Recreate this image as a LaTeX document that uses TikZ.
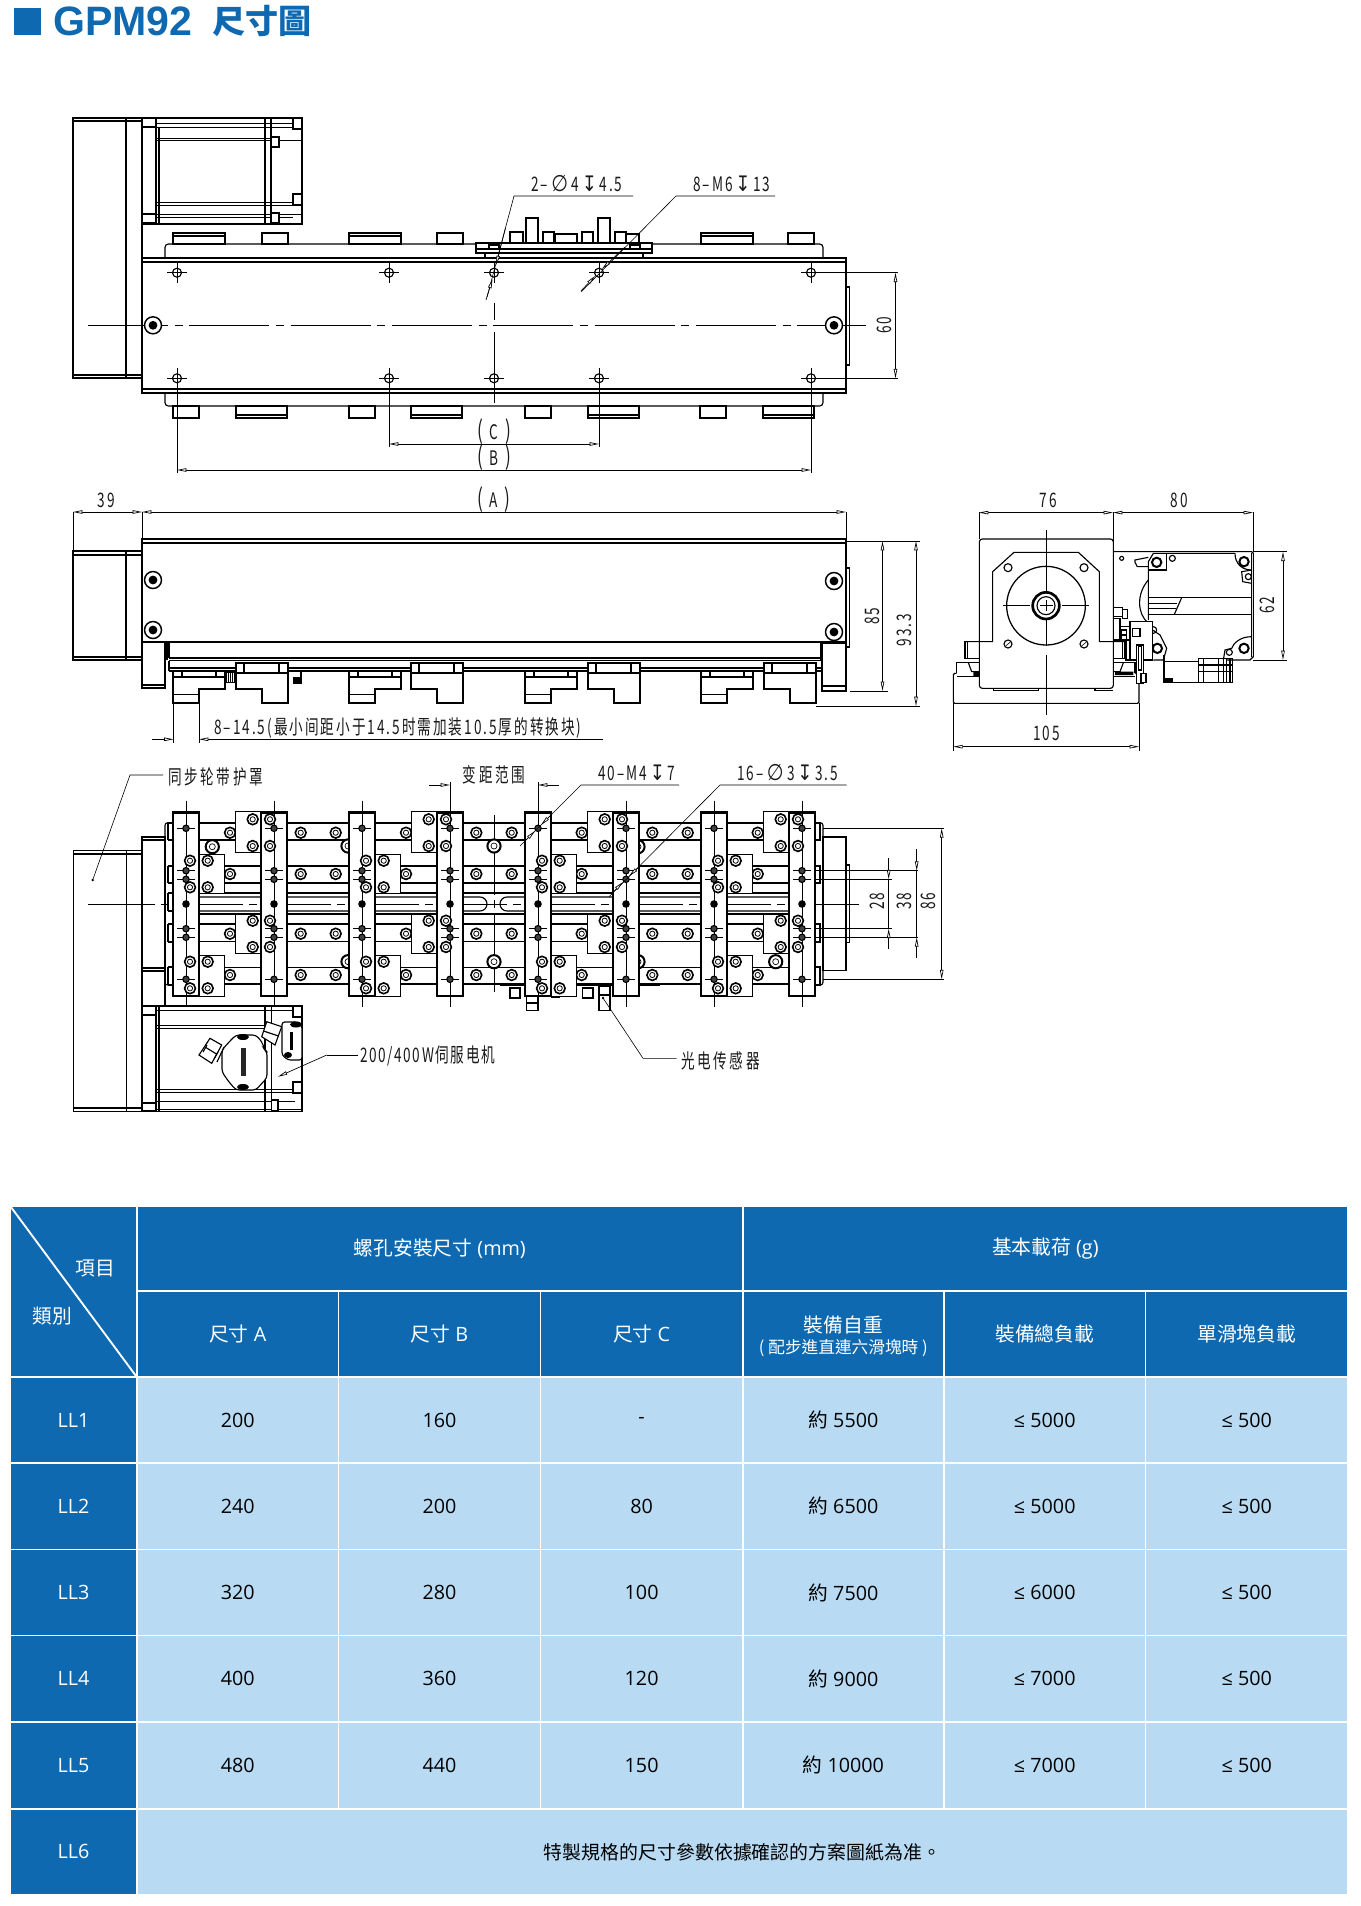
\documentclass[tikz,border=0pt]{standalone}
\usepackage{fontspec}
\usetikzlibrary{arrows.meta}
\setmainfont{Open Sans}
\newfontfamily\cj{Noto Sans CJK TC}
\newfontfamily\cad[FakeStretch=.68,LetterSpace=10]{Noto Sans CJK SC}
\newfontfamily\cadw[FakeStretch=.68,LetterSpace=13]{Noto Sans CJK SC}
\newfontfamily\cadm[FakeStretch=.68,LetterSpace=8]{Noto Sans CJK SC}
\newfontfamily\cadsym[FakeStretch=.85]{DejaVu Sans}
\newfontfamily\tlat{Liberation Sans}
\definecolor{blued}{HTML}{0F69B1}
\definecolor{bluel}{HTML}{B8DBF3}
\newcommand{\dia}{\hspace{2.5pt}{\cadsym\fontsize{17}{17}\selectfont ∅}\hspace{2.5pt}}
\newcommand{\dep}{\hspace{2pt}{\cadsym\fontsize{16}{16}\selectfont ↧}\hspace{2pt}}
\newcommand{\parl}{{\fontsize{19}{19}\selectfont(}\hspace{5pt}}
\newcommand{\parr}{\hspace{5pt}{\fontsize{19}{19}\selectfont)}}
\tikzset{
 ol/.style={line width=.85pt,draw=black},
 th/.style={line width=.45pt,draw=black},
 tk/.style={line width=1.5pt,draw=black},
 wf/.style={ol,fill=white},
 ctr/.style={line width=.5pt,draw=black,dash pattern=on 60pt off 5pt on 6pt off 5pt},
 dimen/.style={line width=.5pt,draw=black,{Triangle[open,fill=white,length=7pt,width=2.6pt]}-{Triangle[open,fill=white,length=7pt,width=2.6pt]}},
 tipin/.style={line width=.5pt,draw=black,-{Triangle[open,fill=white,length=7pt,width=2.6pt]}},
 cadtx/.style={font=\cad\fontsize{15}{15}\selectfont,inner sep=0pt,text=black!90},
 cadsp/.style={font=\cadw\fontsize{15}{15}\selectfont,inner sep=0pt,text=black!90},
 cadmx/.style={font=\cadm\fontsize{15}{15}\selectfont,inner sep=0pt,text=black!90},
 cell/.style={fill=#1,draw=white,line width=1.4pt},
 ctw/.style={font=\fontsize{14.8}{17}\selectfont,text=white,inner sep=0pt,align=center},
 ctb/.style={font=\fontsize{14.8}{17}\selectfont,text=black,inner sep=0pt},
}
\newcommand{\hcirc}[2]{\draw[ol] (#1,#2) circle (4.5); \draw[th] (#1-10,#2)--(#1+10,#2) (#1,#2-10)--(#1,#2+10);}
\newcommand{\bigscrew}[2]{\draw[line width=1.1pt,draw=black,fill=white] (#1,#2) circle (8.5); \fill[black] (#1,#2) circle (4.4);}
\newcommand{\tgt}[2]{\draw[line width=1.2pt,draw=black,fill=white] (#1,#2) circle (5.4); \draw[line width=.6pt] (#1,#2) circle (2.6);}
\newcommand{\colh}[2]{\draw[th] (#1-9,#2)--(#1+9,#2); \draw[ol,fill=black!75] (#1,#2) circle (3.2);}
\newcommand{\sidea}[1]{%
 \draw[wf] (#1,671) rectangle (#1+52,677);
 \draw[ol] (#1,671) rectangle (#1+9,677) (#1+43,671) rectangle (#1+52,677);
 \draw[wf] (#1,677)--(#1+52,677)--(#1+52,689)--(#1+26,689)--(#1+26,703)--(#1,703)--cycle;
 \draw[th] (#1,694)--(#1+26,694);
 \draw[tk] (#1,702.5)--(#1+26,702.5);}
\newcommand{\sideb}[1]{%
 \draw[wf] (#1,663) rectangle (#1+52,673);
 \draw[ol] (#1+8,663)--(#1+8,673) (#1+43,663)--(#1+43,673);
 \draw[wf] (#1,673)--(#1+52,673)--(#1+52,703)--(#1+26,703)--(#1+26,689)--(#1,689)--cycle;
 \draw[tk] (#1+26,702.5)--(#1+52,702.5);}
\newcommand{\tcell}[7]{\path[cell=#5] (#1,#2) rectangle (#3,#4); \node[#6] (#7) at ({(#1+#3)/2},{(#2+#4)/2})}
\begin{document}
\begin{tikzpicture}[x=.75pt,y=-.75pt]
\useasboundingbox (0,0) rectangle (1360,1906);
% ---------- title
\fill[blued] (14,8) rectangle (41,35);
\node[inner sep=0pt,anchor=west,text=blued,font=\tlat\bfseries\fontsize{30.8}{32}\selectfont] (ttl) at (53,21.5) {GPM92};
\node[inner sep=0pt,anchor=west,text=blued,font=\cj\bfseries\fontsize{24.8}{26}\selectfont] (ttc) at (212,21) {尺寸圖};
% ---------- TOP VIEW
\draw[ol] (73,118) rectangle (142,378);
\draw[ol] (126,118)--(126,378) (73,121)--(142,121) (73,375)--(142,375);
\draw[ol] (142,118) rectangle (302,224);
\draw[ol] (156,118)--(156,224) (159,127)--(159,224) (265,118)--(265,224) (271,118)--(271,224);
\draw[th] (156,123)--(293,123) (156,127)--(293,127) (156,138)--(271,138) (156,140)--(302,140);
\draw[th] (156,202)--(302,202) (156,205)--(293,205) (156,214)--(302,214) (156,217)--(293,217);
\draw[wf] (142,118) rectangle (156,127);\draw[wf] (142,214) rectangle (156,223);
\draw[wf] (293,118) rectangle (302,129);\draw[wf] (271,137) rectangle (279,147);
\draw[wf] (293,194) rectangle (302,205);\draw[wf] (271,213) rectangle (279,223);
\foreach \o in {0,176,528}{\draw[wf] (173+\o,233) rectangle (225+\o,244);\draw[ol] (173+\o,236)--(225+\o,236);}
\foreach \o in {0,175,526}{\draw[wf] (262+\o,233) rectangle (288+\o,244);}
\draw[ol,rounded corners=2.5pt] (165,258)--(165,244)--(823,244)--(823,258);
\draw[ol,rounded corners=2.5pt] (165,393)--(165,406)--(823,406)--(823,393);
\foreach \x in {173,349,525,700}{\draw[wf] (\x,406) rectangle (\x+26,418);}
\foreach \x in {236,411,588,763}{\draw[wf] (\x,406) rectangle (\x+51,418);\draw[ol] (\x,415)--(\x+51,415);}
% carriage
\foreach \a/\b/\c/\d in {510/523/232/243,543/554/232/243,555/577/234/243,582/593/232/243,615/626/232/243,626/639/234/243,526/538/218/243,598/610/218/243}{\draw[wf] (\a,\c) rectangle (\b,\d);}
\draw[wf] (476,243) rectangle (652,253);\draw[ol] (476,249)--(652,249);
\draw[ol] (485,253)--(485,258) (643,253)--(643,258);
\draw[ol] (489,245) rectangle (499,249) (630,245) rectangle (640,249);
% body
\draw[wf] (142,258) rectangle (846,393);
\draw[ol] (142,262)--(846,262) (142,389)--(846,389);
\draw[ol] (846,287) rectangle (849.5,365);
\foreach \x in {177,389,494,599,811}{\hcirc{\x}{272.7}\hcirc{\x}{378.3}}
\draw[ctr] (88,325.3)--(866,325.3);
\draw[th] (494,303)--(494,320) (494,332)--(494,403);
\bigscrew{153}{325.3}\bigscrew{834}{325.3}
% leaders top
\node[cadtx,anchor=west] (l1) at (531,184) {2–\dia 4\dep 4.5};
\node[cadtx,anchor=west] (l2) at (693,184) {8–M6\dep 13};
\coordinate (l1a) at (633,196);\coordinate (l1b) at (514,196);\coordinate (l1c) at (487,297);
\coordinate (l2a) at (775,196);\coordinate (l2b) at (676,196);\coordinate (l2c) at (581,292);
\draw[th] (l1a)--(l1b)--(l1c);\draw[th] (l2a)--(l2b)--(l2c);
\draw[tipin] (505.5,228)--(496,265);\draw[tipin] (486,300)--(492.5,279);
\draw[tipin] (625,247)--(602,269);\draw[tipin] (581,291)--(595,276);
% dims C B
\draw[th] (389,385)--(389,447) (599,385)--(599,447) (177,385)--(177,473) (811,378)--(811,473);
\draw[dimen] (389,444)--(599,444);
\draw[dimen] (177,470)--(811,470);
\node[cadtx] (lc) at (494,432) {\parl C\parr};
\node[cadtx] (lb) at (494,458) {\parl B\parr};
\draw[th] (811,272.7)--(898,272.7) (811,378.3)--(898,378.3);
\draw[dimen] (895.5,272.7)--(895.5,378.3);
\node[cadtx,rotate=90] (l60) at (884,325) {60};
% ---------- SIDE VIEW
\draw[th] (73,512)--(73,551) (142,512)--(142,539) (846,512)--(846,541);
\draw[dimen] (73,512)--(142,512);
\draw[dimen] (142,512)--(846,512);
\node[cadtx] (l39) at (106,500) {39};
\node[cadtx] (la) at (494,500) {\parl A\parr};
\draw[ol] (73,551) rectangle (142,660);
\draw[ol] (126,551)--(126,660) (73,555)--(142,555) (73,657)--(142,657);
\draw[ol] (142,539) rectangle (846,642);
\draw[ol] (142,543)--(846,543);
\draw[ol] (846,568) rectangle (849.5,647);
\draw[wf] (142,642) rectangle (165,688);\draw[ol] (142,685)--(165,685);
\draw[ol] (167,642)--(167,660) (169,642)--(169,658);
\draw[ol] (169,658)--(821,658) (169,660.5)--(821,660.5) (821,642)--(821,660);
\draw[ol] (169,660.5)--(169,671) (169,668)--(821,668);
\draw[tk] (169,671)--(821,671);
\foreach \x in {173,349,525,701}{\sidea{\x}}
\foreach \x in {236,411,588,764}{\sideb{\x}}
\fill[black] (293,677) rectangle (301,684);\draw[ol] (301,672)--(301,684);
\draw[th] (226,672) rectangle (236,682);\foreach \x in {228,230,232,234}{\draw[th] (\x,672)--(\x,682);}
\draw[wf] (822,643) rectangle (846,691);\draw[ol] (822,686)--(846,686);
\bigscrew{153}{580}\bigscrew{153}{630}\bigscrew{834}{581}\bigscrew{834}{632}
\draw[th] (846,541)--(920,541) (850,691)--(888,691) (816,706)--(920,706);
\draw[dimen] (882.5,541)--(882.5,691);
\draw[dimen] (916,541)--(916,706);
\node[cadtx,rotate=90] (l85) at (872,616) {85};
\node[cadtx,rotate=90] (l93) at (904,630) {93.3};
\draw[th] (173.5,704)--(173.5,743) (199,704)--(199,743);
\coordinate (s1) at (152,739.3);\coordinate (s2) at (603,739.3);
\draw[tipin] (s1)--(173.5,739.3);\draw[tipin] (s2)--(199,739.3);
\node[cadtx,anchor=west] (l8) at (214,728) {8–14.5(最小间距小于14.5时需加装10.5厚的转换块)};
% ---------- FRONT VIEW
\draw[th] (979,512)--(979,539) (1113,512)--(1113,542) (1253,512)--(1253,551);
\draw[dimen] (979,512.6)--(1113,512.6);\draw[dimen] (1113,512.6)--(1253,512.6);
\node[cadtx] (l76) at (1048,500) {76};
\node[cadtx] (l80) at (1179,500) {80};
\begin{scope}[shift={(940,520)},x=.25pt,y=-.25pt]
 % motor
 \draw[ol] (520,95)--(935,95)--(940,100)--(940,410)--(930,420)--(860,420);
 \draw[ol] (935,100)--(935,410);
 \draw[ol] (625,300)--(625,125)--(640,100)--(885,100);
 \draw[ol] (885,100)..controls(885,130)and(905,150)..(935,150);
 \draw[ol] (935,150)--(905,155)--(908,185)--(935,190);
 \draw[ol] (625,150)--(680,150)--(680,100);
 \draw[ol] (625,180)..controls(590,220)and(590,280)..(625,310);
 \draw[ol] (585,127)--(585,120)--(625,112) (585,127)--(592,140)--(625,140);
 \draw[ol] (545,115) circle (6);
 \draw[tk] (650,127) circle (14);\draw[tk] (912,125) circle (14);\draw[ol] (925,170) circle (9);\draw[ol] (697,115) circle (9);
 \draw[ol] (625,233)--(935,233) (625,283)--(935,283) (625,250)--(712,250) (625,265)--(708,265);
 \draw[ol] (725,233)--(703,283);
 \draw[ol] (935,350)..controls(900,350)and(880,370)..(875,385)--(855,390)--(850,420);
 \draw[tk] (912,385) circle (14);\draw[ol] (868,397) circle (9);
 \draw[ol] (640,330) circle (10);\draw[tk] (652,385) circle (14);
 \draw[ol] (638,330)--(660,345)--(680,385)--(670,420)--(640,420);
 \draw[ol] (672,405)--(672,488)--(878,488)--(878,415)--(775,415)--(775,488);
 \draw[ol] (672,425)--(775,425) (790,415)--(790,488) (835,415)--(835,488) (850,415)--(850,488) (860,415)--(860,488) (870,415)--(870,488) (775,435)--(878,435) (775,455)--(878,455);
 \fill[black] (672,475) rectangle (700,490);
 % base and rails
 \draw[wf,rounded corners=1pt] (40,460)--(40,550)--(597,550)--(597,460)--(520,460)--(118,460)--cycle;
 \draw[wf] (50,460)--(50,428)--(118,428)--(118,470)--(50,470);
 \draw[wf] (585,460)--(585,428)--(520,428)--(520,470)--(585,470);
 \draw[ol] (85,428)--(95,455)--(118,455) (550,428)--(540,455)--(520,455);
 \fill[black] (100,455) rectangle (118,470) (525,455) rectangle (580,465);
 \draw[wf] (75,365) rectangle (118,415);\draw[ol] (82,365)--(82,415);
 \draw[wf] (555,365) rectangle (520,415);
 \draw[ol] (548,365)--(548,415);
 \draw[wf] (520,262) rectangle (548,290);\draw[wf] (548,268) rectangle (562,295);
 \draw[wf] (520,295) rectangle (540,360);\draw[wf] (540,320) rectangle (570,360);\draw[ol] (545,330) rectangle (560,345);\draw[ol] (545,345) rectangle (560,358);
 \draw[wf] (570,305) rectangle (638,420);\draw[wf] (578,325) rectangle (600,350);
 \draw[wf] (590,375) rectangle (610,490);\draw[ol] (596,380) rectangle (604,450);
 \draw[wf] (603,460) rectangle (618,487);
 \draw[wf] (558,360) rectangle (568,420);
 % housing
 \draw[wf,rounded corners=2.2pt] (118,57) rectangle (520,505);
 \draw[ol] (160,505)--(160,512)--(295,512)--(295,505) (465,505)--(465,512)--(520,512);
 \draw[ol] (78,365)--(158,365)--(158,155)--(222,97)--(415,97)--(478,155)--(478,365)--(555,365);
 \draw[ol] (204,143) circle (12);\draw[ol] (432,143) circle (12);
 \draw[ol] (204,372) circle (12);\draw[ol] (432,372) circle (12);
 \draw[th] (197,378)--(211,366) (425,378)--(439,366);
 \draw[line width=.95pt] (318,257) circle (118);
 \draw[line width=2pt] (318,257) circle (40);
 \draw[ol] (318,257) circle (27);
 \draw[th] (318,30)--(318,212) (318,240)--(318,272) (318,300)--(318,378) (318,405)--(318,585);
 \draw[th] (190,257)--(270,257) (300,257)--(338,257) (366,257)--(447,257);
 \draw[th] (40,550)--(40,692) (597,550)--(597,692);
 \draw[dimen] (40,680)--(597,680);
\end{scope}
\node[cadtx] (l105) at (1046.7,733) {105};
\draw[th] (1253,551.7)--(1287,551.7) (1253,660)--(1287,660);
\draw[dimen] (1283,551.7)--(1283,660);
\node[cadtx,rotate=90] (l62) at (1267,605) {62};
% ---------- PLAN VIEW
\draw[ol] (73.3,850.7) rectangle (142,1111.7);
\draw[ol] (126.7,850.7)--(126.7,1111.7) (73.3,854)--(142,854) (73.3,1108)--(142,1108);
\draw[ol] (142,837) rectangle (165,1006);
\draw[ol] (142,840)--(165,840) (142,968)--(165,968) (142,971)--(165,971);
\draw[ol,rounded corners=2pt] (173,822.7)--(165,822.7)--(165,985)--(173,985);
\foreach \a/\b in {823/840,866/883,924/942,967/985,893/911}{\draw[ol] (168,\a)--(173,\a) (168,\b)--(173,\b) (168,\a)--(168,\b);}
% right end
\draw[ol] (823,837) rectangle (846,970.7);
\draw[ol] (846,865) rectangle (849.5,942.7);
\draw[ol,rounded corners=2pt] (815,822.7)--(823,822.7)--(823,985)--(815,985);
\foreach \a/\b in {823/840,866/883,924/942,967/985}{\draw[ol] (815,\a)--(820,\a)--(820,\b)--(815,\b);}
% motor plan
\draw[ol] (142,1006) rectangle (302,1111.7);
\draw[ol] (156,1006)--(156,1111.7) (159,1006)--(159,1111.7) (265,1006)--(265,1111.7) (271.7,1006)--(271.7,1111.7);
\draw[th] (156,1010)--(295,1010) (156,1025)--(271.7,1025) (156,1028)--(271.7,1028);
\draw[th] (156,1089)--(302,1089) (156,1092)--(302,1092) (156,1101.7)--(295,1101.7) (156,1109)--(302,1109);
\draw[wf] (142.7,1006) rectangle (156,1015);\draw[wf] (142.7,1103) rectangle (156,1111);
\draw[wf] (293,1006) rectangle (302,1017);\draw[wf] (293,1082) rectangle (302,1093);
\draw[wf] (271.7,1100) rectangle (278,1111);
% motor connector shapes
\draw[wf] (210,1038.3)--(221.7,1045)--(211.7,1063.3)--(199,1055)--cycle;
\draw[ol] (205,1047)--(216.5,1054) (203,1052)--(207,1045) (214,1059)--(218,1052);
\draw[ol] (217,1062)--(224,1047);
\draw[wf,rounded corners=2.5pt] (229,1042)--(236,1035)--(256,1035)--(262,1042)--(265,1050)--(267,1052)--(267,1078)--(263,1082)--(256,1090)--(236,1090)--(229,1082)--(222,1072)--(222,1050)--cycle;
\fill[black!85] (241,1048) rectangle (245.5,1076);
\fill[black] (243,1037) ellipse (6 and 3);\fill[black] (243,1087) ellipse (6 and 3);
\draw[wf] (261.7,1036.7)--(266.7,1021.7)--(281.7,1026.7)--(275,1045)--cycle;
\draw[ol] (263.5,1031)--(278.5,1036);
\draw[wf,rounded corners=2pt] (282,1022)--(298,1022)--(302,1026)--(302,1060)--(288,1060)--(282,1055)--cycle;
\fill[black] (290,1032) rectangle (293,1050);\fill[black] (296,1024.5) ellipse (6 and 3);\fill[black] (288,1055) ellipse (4 and 3);
% rails
\foreach \a/\b in {822.7/840,866/883.3,924/941.7,967.3/984}{\draw[wf] (173,\a) rectangle (815,\b);}
\draw[tk] (173,822.7)--(815,822.7) (173,883.3)--(815,883.3) (173,924)--(815,924) (173,984)--(815,984);
% center
\draw[ol] (199,893)--(789,893) (199,914)--(789,914);
\draw[ol] (199,897)--(480,897) arc (-90:90:7) --(199,911);
\draw[ol] (789,897)--(507,897) arc (-90:-270:7) --(789,911);
\draw[line width=.5pt,dash pattern=on 50pt off 5pt on 6pt off 5pt] (88,904)--(862,904);
\draw[th] (494,815)--(494,895) (494,900)--(494,908) (494,913)--(494,991.7);
% big screws behind
\foreach \x/\y in {212.3/846.7,348/846,494/846,638/846.7,348/961.7,494/961.7,638/961.7,775.7/961.7}{\draw[line width=1.5pt,fill=white] (\x,\y) circle (6.6);\draw[line width=.5pt] (\x,\y) circle (3);}
% rail targets
\foreach \y in {832.7,874,933.7,975}{\foreach \x in {230,300.7,335.7,406,476.3,511.7,581.7,652.3,687.7,757.7}{\tgt{\x}{\y}}}
% sensors
\draw[ol] (510,988) rectangle (520,998);\draw[ol] (582.7,988) rectangle (593,998);
\draw[wf] (526.7,996.7) rectangle (538,1010.7);\draw[ol] (526.7,1003)--(538,1003);
\draw[wf] (599,986.7) rectangle (610,1010.7);\draw[ol] (599,995)--(610,995);
\draw[tk] (500,985)--(660,985);
\draw[tk] (551,997)--(560,997);
% blocks and columns
\foreach \o in {0,176,352,528}{
 \draw[wf] (199+\o,854.3) rectangle (224.7+\o,893.3);
 \draw[wf] (199+\o,955.7) rectangle (224.7+\o,996.7);
 \draw[wf] (235.7+\o,811.7) rectangle (261+\o,852.3);
 \draw[wf] (235.7+\o,914.3) rectangle (261+\o,953.3);
}
\foreach \c in {186,274,362,450,538,626,714,802}{
 \draw[wf] (\c-13,811.7) rectangle (\c+13,996.7);
 \draw[tk] (\c-13,812.5)--(\c+13,812.5) (\c-13,996)--(\c+13,996);
 \draw[th] (\c,800.7)--(\c,1006.7);
 \colh{\c}{828.3}\colh{\c}{870.7}\colh{\c}{879.3}\colh{\c}{928.7}\colh{\c}{937.3}\colh{\c}{979.3}
 \fill[black] (\c,904) circle (3.8);
}
\foreach \o in {0,176,352,528}{
 \foreach \x in {190,207.7}{\foreach \y in {860.7,887.3,961.7,988.3}{\tgt{\x+\o}{\y}}}
 \foreach \x in {252.7,270}{\foreach \y in {819.3,846,920.7,947}{\tgt{\x+\o}{\y}}}
}
% plan labels
\node[cadsp,anchor=west] (p1) at (168,776.7) {同步轮带护罩};
\coordinate (p1a) at (163,775);\coordinate (p1b) at (130,775);\coordinate (p1c) at (92.7,880);
\draw[th] (p1a)--(p1b)--(p1c);\fill (p1c) circle (1.3);
\node[cadsp,anchor=center] (p2) at (494,775) {变距范围};
\draw[th] (450,782)--(450,812) (538,782)--(538,812);
\draw[tipin] (429,785)--(450,785);\draw[tipin] (559,785)--(538,785);
\node[cadtx,anchor=west] (p3) at (598,772.7) {40–M4\dep 7};
\node[cadtx,anchor=west] (p4) at (737,772.7) {16–\dia 3\dep 3.5};
\coordinate (p3a) at (679,785);\coordinate (p3b) at (581,785);\coordinate (p3c) at (520,846);
\coordinate (p4a) at (846.7,785);\coordinate (p4b) at (720,785);\coordinate (p4c) at (609,896.7);
\draw[th] (p3a)--(p3b)--(p3c);\draw[th] (p4a)--(p4b)--(p4c);
\draw[tipin] (552,814)--(541,825);\draw[tipin] (526,840)--(535,831);
\draw[tipin] (640,866)--(629,876);\draw[tipin] (613,892)--(623,882);
\node[cadmx,anchor=west] (p5) at (360,1056) {200/400W伺服电机};
\coordinate (p5a) at (358,1055);\coordinate (p5b) at (326.7,1055);\coordinate (p5c) at (278,1076.7);
\draw[th] (p5a)--(p5b);\draw[tipin] (p5b)--(p5c);
\node[cadsp,anchor=west] (p6) at (681,1061) {光电传感器};
\coordinate (p6a) at (676.7,1058.3);\coordinate (p6b) at (643,1058.3);\coordinate (p6c) at (603,998);
\draw[th] (p6a)--(p6b)--(p6c);\fill (p6c) circle (1.3);
% right dims
\draw[th] (823,828.3)--(944,828.3) (823,979.3)--(944,979.3);
\draw[th] (816,870.7)--(918,870.7) (816,937.3)--(918,937.3);
\draw[th] (816,879.3)--(892,879.3) (816,928.7)--(892,928.7);
\draw[dimen] (941.7,828.3)--(941.7,979.3);
\draw[tipin] (916.7,849)--(916.7,870.7);\draw[tipin] (916.7,958)--(916.7,937.3);\draw[th] (916.7,870.7)--(916.7,937.3);
\draw[tipin] (888.7,858)--(888.7,879.3);\draw[tipin] (888.7,949)--(888.7,928.7);\draw[th] (888.7,879.3)--(888.7,928.7);
\node[cadtx,rotate=90] (d28) at (877,901) {28};
\node[cadtx,rotate=90] (d38) at (904,901) {38};
\node[cadtx,rotate=90] (d86) at (928.3,901) {86};
% ---------- TABLE
\tcell{10}{1205.7}{137}{1377.3}{blued}{ctw}{h0}{};
\draw[white,line width=1.4pt] (10,1205.7)--(137,1377.3);
\node[ctw,font=\cj\fontsize{14.8}{17}\selectfont] (h01) at (95,1268.5) {項目};
\node[ctw,font=\cj\fontsize{14.8}{17}\selectfont] (h02) at (52,1316) {類別};
\tcell{137}{1205.7}{742.7}{1291}{blued}{ctw}{h1}{{\cj 螺孔安裝尺寸} (mm)};
\tcell{742.7}{1205.7}{1348}{1291}{blued}{ctw}{h2}{{\cj 基本載荷} (g)};
\tcell{137}{1291}{338.5}{1377.3}{blued}{ctw}{h3}{{\cj 尺寸} A};
\tcell{338.5}{1291}{540.5}{1377.3}{blued}{ctw}{h4}{{\cj 尺寸} B};
\tcell{540.5}{1291}{742.7}{1377.3}{blued}{ctw}{h5}{{\cj 尺寸} C};
\tcell{742.7}{1291}{944}{1377.3}{blued}{ctw,yshift=-1.5pt}{h6}{{\cj 裝備自重}\\[-1pt]{\cj\fontsize{12.5}{14}\selectfont ( 配步進直連六滑塊時 )}};
\tcell{944}{1291}{1145.5}{1377.3}{blued}{ctw}{h7}{{\cj 裝備總負載}};
\tcell{1145.5}{1291}{1348}{1377.3}{blued}{ctw}{h8}{{\cj 單滑塊負載}};
\foreach \n/\ya/\yb/\a/\b/\c/\w/\t in {1/1377.3/1463.3/200/160/-/5500/5000,2/1463.3/1549.5/240/200/80/6500/5000,3/1549.5/1635.5/320/280/100/7500/6000,4/1635.5/1722/400/360/120/9000/7000,5/1722/1808.7/480/440/150/10000/7000}{
 \tcell{10}{\ya}{137}{\yb}{blued}{ctw}{r\n a}{LL\n};
 \tcell{137}{\ya}{338.5}{\yb}{bluel}{ctb}{r\n b}{\a};
 \tcell{338.5}{\ya}{540.5}{\yb}{bluel}{ctb}{r\n c}{\b};
 \tcell{540.5}{\ya}{742.7}{\yb}{bluel}{ctb}{r\n d}{\c};
 \tcell{742.7}{\ya}{944}{\yb}{bluel}{ctb}{r\n e}{{\cj 約} \w};
 \tcell{944}{\ya}{1145.5}{\yb}{bluel}{ctb}{r\n f}{≤ \t};
 \tcell{1145.5}{\ya}{1348}{\yb}{bluel}{ctb}{r\n g}{≤ 500};
}
\tcell{10}{1808.7}{137}{1895}{blued}{ctw}{r6a}{LL6};
\tcell{137}{1808.7}{1348}{1895}{bluel}{ctb}{r6b}{{\cj\fontsize{14.2}{16}\selectfont 特製規格的尺寸參數依據確認的方案圖紙為准。}};
\end{tikzpicture}
\end{document}
